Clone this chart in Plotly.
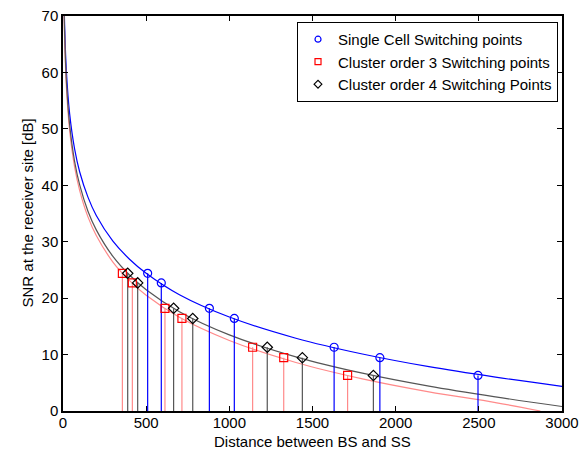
import plotly.graph_objects as go

# Curves (distance, SNR)
curve_d = [8.5, 10, 20, 40, 70, 100, 150, 200, 300, 400, 500, 700, 1000, 1400, 1800, 2200, 2600, 3000]
snr_single = [70.0, 68.15, 60.4, 52.65, 46.4, 42.4, 37.9, 34.65, 30.1, 26.9, 24.4, 20.6, 16.65, 12.9, 10.1, 7.85, 6.0, 4.35]
curve_d_c3 = [7, 10, 20, 40, 70, 100, 150, 200, 300, 400, 500, 700, 1000, 1400, 1800, 2200, 2600, 2870]
snr_c3 = [70.0, 65.7, 57.7, 49.7, 43.2, 39.1, 34.4, 31.1, 26.4, 23.1, 20.5, 16.6, 12.5, 8.6, 5.7, 3.4, 1.5, 0.0]
curve_d_c4 = [7.5, 10, 20, 40, 70, 100, 150, 200, 300, 400, 500, 700, 1000, 1400, 1800, 2200, 2600, 3000]
snr_c4 = [70.0, 66.7, 58.7, 50.7, 44.2, 40.1, 35.4, 32.1, 27.4, 24.1, 21.5, 17.6, 13.5, 9.6, 6.7, 4.4, 2.5, 0.8]

# Switching points
switch_snr = [24.4, 22.7, 18.2, 16.4, 11.3, 9.45, 6.3]
sw_single_d = [509, 591, 880, 1030, 1630, 1905, 2495]
sw_c3_d = [357, 417, 613, 715, 1140, 1327, 1711]
sw_c4_d = [389, 449, 665, 780, 1228, 1439, 1866]

x_ticks = [0, 500, 1000, 1500, 2000, 2500, 3000]
y_ticks = [0, 10, 20, 30, 40, 50, 60, 70]

X_TITLE = "Distance between BS and SS"
Y_TITLE = "SNR at the receiver site [dB]"

BLUE = "#0000ff"
RED_LINE = "#ff8a8a"
RED_MK = "#ff0000"
GRAY = "#555555"
BLACK = "#000000"
FONT = "Liberation Sans, Arial"


def stems(xs, ys):
    sx, sy = [], []
    for x, y in zip(xs, ys):
        sx += [x, x, None]
        sy += [0, y, None]
    return sx, sy


fig = go.Figure()

# curves
fig.add_trace(go.Scatter(x=curve_d, y=snr_single, mode="lines", line=dict(color=BLUE, width=1.2, shape="spline"), showlegend=False))
fig.add_trace(go.Scatter(x=curve_d_c3, y=snr_c3, mode="lines", line=dict(color=RED_LINE, width=1.2, shape="spline"), showlegend=False))
fig.add_trace(go.Scatter(x=curve_d_c4, y=snr_c4, mode="lines", line=dict(color=GRAY, width=1.2, shape="spline"), showlegend=False))

# stems
for xs, col in [(sw_c3_d, RED_LINE), (sw_c4_d, GRAY), (sw_single_d, BLUE)]:
    sx, sy = stems(xs, switch_snr)
    fig.add_trace(go.Scatter(x=sx, y=sy, mode="lines", line=dict(color=col, width=1.2), showlegend=False, hoverinfo="skip"))

# markers
series = [
    (sw_single_d, "Single Cell Switching points", "circle-open", BLUE),
    (sw_c3_d, "Cluster order 3 Switching points", "square-open", RED_MK),
    (sw_c4_d, "Cluster order 4 Switching Points", "diamond-open", BLACK),
]
for xs, name, sym, col in series:
    fig.add_trace(go.Scatter(x=xs, y=switch_snr, mode="markers", name=name, showlegend=False,
                             marker=dict(symbol=sym, size=8, color=col, line=dict(width=1.2, color=col))))
# legend entries (smaller symbols as in the reference legend)
for xs, name, sym, col in series:
    fig.add_trace(go.Scatter(x=[None], y=[None], mode="markers", name=name,
                             marker=dict(symbol=sym, size=6, color=col, line=dict(width=1.2, color=col))))

axis_common = dict(showgrid=False, zeroline=False, showline=True, linecolor="black", linewidth=1.5,
                   mirror="ticks", ticks="inside", ticklen=5, tickcolor="black", automargin=False,
                   ticklabeloverflow="allow",
                   tickfont=dict(family=FONT, size=15, color="black"))

fig.update_layout(
    width=579, height=442,
    margin=dict(l=55, r=25, t=8, b=39),
    paper_bgcolor="white", plot_bgcolor="white",
    font=dict(family=FONT, size=15, color="black"),
    xaxis=dict(range=[0, 3000], tickvals=x_ticks, ticklabelstandoff=-3, **axis_common),
    yaxis=dict(range=[0, 70], tickvals=y_ticks, **axis_common),
    legend=dict(x=0.992, y=0.985, xanchor="right", yanchor="top", bgcolor="white", bordercolor="black", borderwidth=1,
                font=dict(size=15), tracegroupgap=0, itemwidth=30),
    showlegend=True,
    annotations=[
        dict(text=X_TITLE, xref="paper", yref="paper", x=0.5, y=0, xanchor="center", yanchor="top",
             yshift=-20, showarrow=False, font=dict(family=FONT, size=15, color="black")),
        dict(text=Y_TITLE, xref="paper", yref="paper", x=0, y=0.5, xanchor="center", yanchor="middle",
             xshift=-36, textangle=-90, showarrow=False, font=dict(family=FONT, size=15, color="black")),
    ],
)

fig.write_html("out.html")
